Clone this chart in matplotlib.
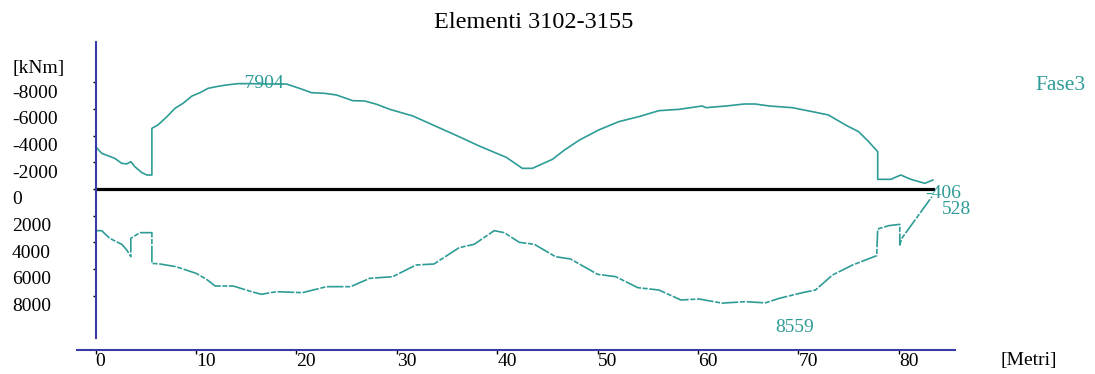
import matplotlib
matplotlib.use('Agg')
import matplotlib.pyplot as plt
import matplotlib.transforms as mtransforms

plt.rcParams['font.family'] = ['Liberation Serif', 'DejaVu Serif']

# curva superiore (momenti negativi), Fase3
x_sup = [0, 0.6, 1.9, 2.6, 3.1, 3.5, 3.9, 4.6, 5.1, 5.6, 5.6, 6.2, 7.1, 7.9, 8.7,
         9.6, 10.4, 11.2, 12.0, 13.0, 14.2, 15.0, 17.0, 19.0, 20.3, 21.5, 22.8,
         24.0, 25.6, 26.8, 28.0, 29.3, 31.6, 33.6, 36.2, 38.2, 40.9, 42.5, 43.5,
         45.5, 46.7, 48.2, 50.1, 52.1, 54.1, 56.1, 58.1, 58.8, 60.4, 60.8, 62.8,
         64.6, 65.7, 67.1, 69.4, 71.4, 73.0, 74.7, 76.0, 77.0, 77.9, 77.9, 79.2,
         80.2, 81.2, 82.6, 83.4]
m_sup = [-3175, -2675, -2300, -1925, -1880, -2050, -1675, -1225, -1050, -1050,
         -4550, -4800, -5425, -6050, -6425, -6975, -7225, -7550, -7675, -7800,
         -7904, -7904, -7880, -7875, -7550, -7225, -7175, -7050, -6625, -6600,
         -6350, -5975, -5475, -4800, -3925, -3225, -2375, -1550, -1550, -2225,
         -2925, -3675, -4425, -5050, -5425, -5875, -5975, -6050, -6225, -6100,
         -6225, -6375, -6375, -6225, -6100, -5800, -5550, -4800, -4300, -3550,
         -2800, -725, -725, -1050, -725, -425, -675]

# curva inferiore (momenti positivi)
x_inf = [0, 0.6, 1.4, 2.6, 3.1, 3.5, 3.5, 4.4, 5.6, 5.6, 6.4, 8.0, 10.0, 11.0,
         11.9, 13.7, 15.3, 16.5, 18.0, 20.6, 23.0, 25.4, 27.3, 29.6, 31.9, 33.7,
         36.2, 37.7, 39.7, 40.7, 42.2, 43.7, 45.8, 47.3, 50.0, 51.8, 54.0, 56.1,
         58.3, 60.1, 62.4, 64.7, 66.7, 68.1, 70.4, 71.7, 73.4, 75.4, 77.8, 77.9,
         79.0, 80.1, 80.1, 80.3, 83.3]
m_inf = [3125, 3125, 3700, 4150, 4575, 5075, 3700, 3275, 3275, 5575, 5625, 5825,
         6325, 6750, 7275, 7275, 7650, 7900, 7700, 7775, 7325, 7325, 6700, 6575,
         5700, 5625, 4400, 4150, 3125, 3275, 4000, 4150, 5075, 5250, 6400, 6575,
         7400, 7575, 8325, 8250, 8559, 8450, 8540, 8200, 7775, 7575, 6450, 5700,
         5000, 3000, 2750, 2650, 4200, 3700, 575]

y_ticks = [-8000, -6000, -4000, -2000, 0, 2000, 4000, 6000, 8000]
y_labels = ['-8000', '-6000', '-4000', '-2000', '0', '2000', '4000', '6000', '8000']
x_ticks = [0, 10, 20, 30, 40, 50, 60, 70, 80]

# etichette dei valori (testo, x, y)
etichette = [('-7904', 14.2, -7904), ('-406', 82.6, 350),
             ('528', 84.3, 1500), ('8559', 67.7, 10350)]

teal = '#2e9c96'
blu = '#3a3aa6'

fig = plt.figure(figsize=(10.95, 3.74), dpi=100)
ax = fig.add_axes([77 / 1095, 1 - 350 / 374, 878 / 1095, 308 / 374])

ax.plot(x_sup, m_sup, color=teal, lw=1.2)
ax.plot(x_inf, m_inf, color=teal, lw=1.2, linestyle=(0, (10, 1.0, 3, 1.0)))
ax.plot([0, x_sup[-1]], [0, 0], color='black', lw=2.3)

ax.set_xlim(-1.86, 85.6)
ax.set_ylim(12075, -11025)

for s in ['top', 'right']:
    ax.spines[s].set_visible(False)
ax.spines['left'].set_position(('data', 0))
ax.spines['left'].set_bounds(-11025, 11175)
ax.spines['left'].set_color(blu)
ax.spines['left'].set_linewidth(1.5)
ax.spines['bottom'].set_color(blu)
ax.spines['bottom'].set_linewidth(1.5)

ax.set_yticks(y_ticks)
ax.set_yticklabels([''] * len(y_ticks))
ax.tick_params(axis='y', direction='out', length=2.5, width=1, color='black')
ax.set_xticks(x_ticks)
ax.set_xticklabels([str(v) for v in x_ticks], fontsize=14)
ax.tick_params(axis='x', direction='out', length=3, width=1, color='black', pad=-1)
plt.setp(ax.get_xticklabels(), ha='left')

# etichette asse y spostate sotto il tick
trans = mtransforms.blended_transform_factory(fig.transFigure, ax.transData) + \
    mtransforms.ScaledTranslation(0, -0.11, fig.dpi_scale_trans)
for v, lab in zip(y_ticks, y_labels):
    ax.text(12 / 1095, v, lab, transform=trans, ha='left', va='center',
            fontsize=14, clip_on=False)

for txt, xx, yy in etichette:
    ax.text(xx, yy, txt, color=teal, fontsize=14, ha='left', va='center',
            clip_on=False)

fig.text(534 / 1095, 1 - 22 / 374, 'Elementi 3102-3155', ha='center', va='center',
         fontsize=17.5)
fig.text(12 / 1095, 1 - 68 / 374, '[kNm]', ha='left', va='center', fontsize=14)
fig.text(1000 / 1095, 1 - 360 / 374, '[Metri]', ha='left', va='center', fontsize=14)
fig.text(1035 / 1095, 1 - 86 / 374, 'Fase3', ha='left', va='center', fontsize=15.5,
         color=teal)

fig.savefig('out.png', dpi=100)
